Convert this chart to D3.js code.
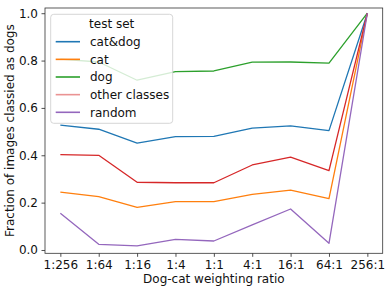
<!doctype html>
<html lang="en">
<head>
<meta charset="utf-8">
<title>Dog-cat weighting ratio</title>
<style>
  body { margin: 0; background: #fff; }
  svg { display: block; font-family: "DejaVu Sans", sans-serif; }
</style>
<script src="https://cdn.jsdelivr.net/npm/d3@7"></script>
</head>
<body>
<svg id="chart" width="391" height="292"></svg>
<script>
// values
var ratios = ["1:256", "1:64", "1:16", "1:4", "1:1", "4:1", "16:1", "64:1", "256:1"];
var catdog = [0.527, 0.510, 0.451, 0.479, 0.480, 0.515, 0.524, 0.504, 1.0];
var cat    = [0.244, 0.225, 0.180, 0.204, 0.204, 0.235, 0.253, 0.217, 1.0];
var dog    = [0.806, 0.794, 0.717, 0.753, 0.756, 0.793, 0.794, 0.789, 1.0];
var other  = [0.403, 0.400, 0.286, 0.284, 0.284, 0.359, 0.392, 0.335, 1.0];
var rnd    = [0.155, 0.024, 0.017, 0.045, 0.038, 0.106, 0.173, 0.028, 1.0];
var yTicks = [0.0, 0.2, 0.4, 0.6, 0.8, 1.0];

var seriesNames = ["cat&dog", "cat", "dog", "other classes", "random"];
var seriesValues = [catdog, cat, dog, other, rnd];
var colors = ["#1f77b4", "#ff7f0e", "#2ca02c", "#d62728", "#9467bd"];

// plot area (note: "top" is a reserved window global, so use prefixed names)
var plotL = 45, plotR = 382.7, plotT = 8, plotB = 253.3;

var svg = d3.select("#chart");

var x = d3.scaleLinear().domain([-0.4, 8.4]).range([plotL, plotR]);
var y = d3.scaleLinear().domain([-0.014, 1.022]).range([plotB, plotT]);

// lines
var line = d3.line()
  .x(function(d, i) { return x(i); })
  .y(function(d) { return y(d); });

for (var s = 0; s < seriesValues.length; s++) {
  svg.append("path")
    .datum(seriesValues[s])
    .attr("d", line)
    .attr("fill", "none")
    .attr("stroke", colors[s])
    .attr("stroke-width", 1.3)
    .attr("stroke-linejoin", "round");
}

// axes
var xAxis = d3.axisBottom(x)
  .tickValues(d3.range(ratios.length))
  .tickFormat(function(i) { return ratios[i]; })
  .tickSizeInner(3.5).tickSizeOuter(0).tickPadding(3.5);
var yAxis = d3.axisLeft(y)
  .tickValues(yTicks)
  .tickFormat(d3.format(".1f"))
  .tickSizeInner(3.5).tickSizeOuter(0).tickPadding(3.5);

var gx = svg.append("g").attr("transform", "translate(0," + plotB + ")").call(xAxis);
var gy = svg.append("g").attr("transform", "translate(" + plotL + ",0)").call(yAxis);
[gx, gy].forEach(function(g) {
  g.select(".domain").remove();
  g.selectAll(".tick line").attr("stroke", "#222").attr("stroke-width", 0.8);
  g.selectAll(".tick text").attr("fill", "#111").style("font-size", "12px")
    .style("font-family", "DejaVu Sans");
});

// frame
svg.append("rect")
  .attr("x", plotL).attr("y", plotT)
  .attr("width", plotR - plotL).attr("height", plotB - plotT)
  .attr("fill", "none").attr("stroke", "#333").attr("stroke-width", 0.8);

// axis labels
svg.append("text")
  .attr("x", (plotL + plotR) / 2).attr("y", 283)
  .attr("text-anchor", "middle")
  .style("font-size", "12px").attr("fill", "#111")
  .text("Dog-cat weighting ratio");

svg.append("text")
  .attr("transform", "translate(14," + ((plotT + plotB) / 2) + ") rotate(-90)")
  .attr("text-anchor", "middle")
  .style("font-size", "12px").attr("fill", "#111")
  .text("Fraction of images classied as dogs");

// legend
var lg = svg.append("g");
lg.append("rect")
  .attr("x", 50.7).attr("y", 14.3)
  .attr("width", 122).attr("height", 109)
  .attr("rx", 3)
  .attr("fill", "#fff").attr("fill-opacity", 0.8)
  .attr("stroke", "#ccc").attr("stroke-width", 0.8);

lg.append("text")
  .attr("x", 111.7).attr("y", 28.3)
  .attr("text-anchor", "middle")
  .style("font-size", "12px").attr("fill", "#111")
  .text("test set");

seriesNames.forEach(function(name, i) {
  var ly = 41.7 + i * 17.65;
  lg.append("line")
    .attr("x1", 55.7).attr("x2", 80)
    .attr("y1", ly).attr("y2", ly)
    .attr("stroke", colors[i]).attr("stroke-width", 1.6)
    .attr("stroke-opacity", name == "other classes" ? 0.5 : 1);
  lg.append("text")
    .attr("x", 90).attr("y", ly + 4.3)
    .style("font-size", "12px").attr("fill", "#111")
    .text(name);
});
</script>
</body>
</html>
